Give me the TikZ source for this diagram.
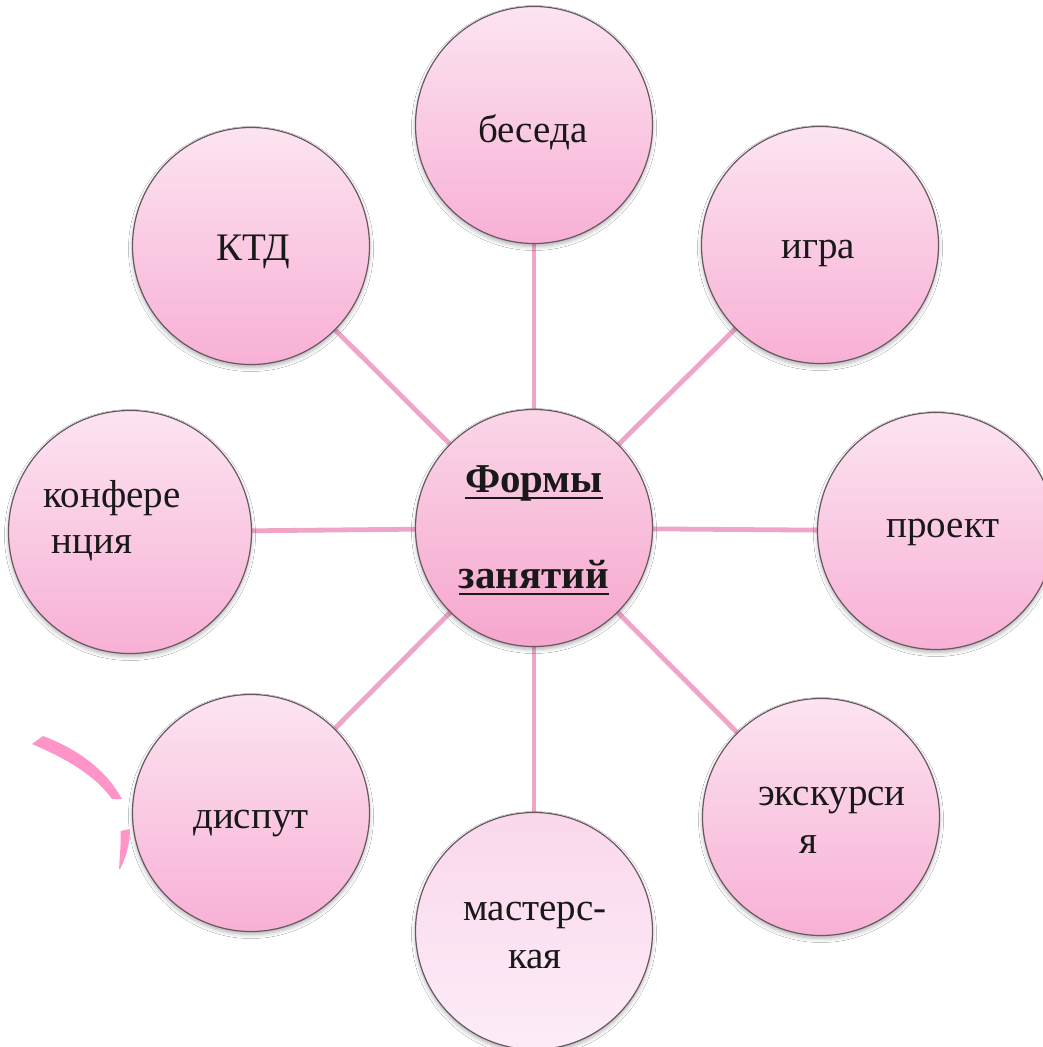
\documentclass[tikz,border=0pt]{standalone}
\usepackage{fontspec}
\setmainfont{Liberation Serif}
\usetikzlibrary{shadows.blur,backgrounds}
\definecolor{ptop}{RGB}{252,228,241}
\definecolor{pbot}{RGB}{248,176,213}
\definecolor{ctop}{RGB}{250,214,232}
\definecolor{cbot}{RGB}{246,166,205}
\definecolor{mtop}{RGB}{250,216,236}
\definecolor{mbot}{RGB}{253,236,248}
\definecolor{bubline}{RGB}{105,88,98}
\definecolor{linepink}{RGB}{240,165,200}
\definecolor{arcpink}{RGB}{255,148,200}
\begin{document}
\begin{tikzpicture}[x=1pt,y=-1pt,
  bub/.style={circle, draw=bubline, line width=1.2pt, minimum size=237pt, inner sep=0pt,
    top color=ptop, bottom color=pbot,
    blur shadow={shadow xshift=0pt, shadow yshift=-3pt, shadow blur radius=4pt, shadow opacity=30}},
  conn/.style={draw=linepink, line width=4.8pt},
  lbl/.style={inner sep=0pt, anchor=base, font=\fontsize{39}{44}\selectfont, text=black!90},
  ttl/.style={lbl, font=\fontsize{41}{48}\selectfont\bfseries},
  uline/.style={draw=black!90, line width=2.6pt}]
\useasboundingbox (0,0) rectangle (1042,1047);
% circles
\node[bub, top color=ctop, bottom color=cbot] (c) at (534,528) {};
\node[bub] (b)  at (534,125) {};
\node[bub] (ig) at (820,245) {};
\node[bub] (kt) at (251,246) {};
\node[bub, minimum size=243pt] (kf) at (130,532) {};
\node[bub] (pr) at (936,531) {};
\node[bub] (ek) at (821,817) {};
\node[bub, top color=mtop, bottom color=mbot] (ms) at (534,931) {};
\node[bub] (di) at (251,813) {};
% connectors
\begin{pgfonlayer}{background}
\fill[white] (0,0) rectangle (1042,1047);
\foreach \n in {b,ig,kt,kf,pr,ek,ms,di}{\draw[conn] (c) -- (\n);}
\end{pgfonlayer}
% labels
\node[lbl] (tb)   at (533,142) {беседа};
\node[lbl] (tig)  at (818,258) {игра};
\node[lbl] (tkt)  at (253,260) {КТД};
\node[lbl] (tpr)  at (943,537) {проект};
\node[lbl] (tkf1) at (112,507) {конфере};
\node[lbl] (tkf2) at (92,553)  {нция};
\node[lbl] (tdi)  at (251,828) {диспут};
\node[lbl] (tek1) at (832,805) {экскурси};
\node[lbl] (tek2) at (808,853) {я};
\node[lbl] (tms1) at (535,920) {мастерс-};
\node[lbl] (tms2) at (535,968) {кая};
\node[ttl] (tf) at (534,492) {Формы};
\node[ttl] (tz) at (534,588) {занятий};
\draw[uline] ([yshift=-6pt]tf.base west) -- ([yshift=-6pt]tf.base east);
\draw[uline] ([yshift=-6pt]tz.base west) -- ([yshift=-6pt]tz.base east);
% pink arc
\fill[arcpink] (32,744) -- (43,736) .. controls (75,748) and (105,768) .. (122,799)
  -- (112,799) .. controls (95,775) and (65,758) .. (32,744) -- cycle;
\fill[arcpink] (120.7,831) -- (130,829) .. controls (130,845) and (125,860) .. (120,869)
  -- (119,869) .. controls (120,855) and (121,842) .. (120.7,831) -- cycle;
\end{tikzpicture}
\end{document}
